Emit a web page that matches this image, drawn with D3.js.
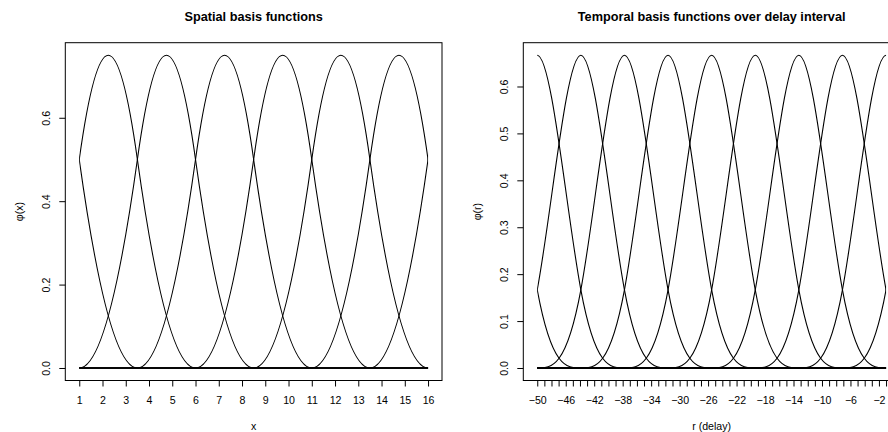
<!DOCTYPE html>
<html><head>
<meta charset="utf-8">
<title>Basis functions</title>
<style>
body { margin: 0; background: #fff; }
svg { display: block; font-family: "Liberation Sans", Arial, Helvetica, sans-serif; }
.box { fill: none; stroke: #000; stroke-width: 1; }
.basis { fill: none; stroke: #000; stroke-width: 1.1; }
.tick line { stroke: #000; }
.tick text { font-size: 10.6px; fill: #000; }
.title { font-size: 12.7px; font-weight: bold; text-anchor: middle; }
.lab { font-size: 10.6px; text-anchor: middle; }
</style>
<script src="https://cdn.jsdelivr.net/npm/d3@7"></script>
</head>
<body>
<svg id="chart" width="888" height="432"></svg>
<script>
// spatial: quadratic B-spline basis, Greville points of the knot grid (step 2.5)
const spatialKnots = [-5.25, -2.75, -0.25, 2.25, 4.75, 7.25, 9.75, 12.25, 14.75, 17.25, 19.75, 22.25];
const spatialCenters = [-0.25, 2.25, 4.75, 7.25, 9.75, 12.25, 14.75, 17.25];
const spatialRange = [1, 16];
const spatialXTicks = [1, 2, 3, 4, 5, 6, 7, 8, 9, 10, 11, 12, 13, 14, 15, 16];
const spatialYTicks = [0, 0.2, 0.4, 0.6];

// temporal: cubic B-spline basis over the delay interval (step 6.125)
const temporalKnots = [-74.5, -68.375, -62.25, -56.125, -50, -43.875, -37.75, -31.625, -25.5,
  -19.375, -13.25, -7.125, -1, 5.125, 11.25, 17.375, 23.5];
const temporalCenters = [-56.125, -50, -43.875, -37.75, -31.625, -25.5, -19.375, -13.25, -7.125, -1, 5.125];
const temporalRange = [-50, -1];
const temporalXTicks = d3.range(-50, 0);
const temporalXLabels = [-50, -46, -42, -38, -34, -30, -26, -22, -18, -14, -10, -6, -2];
const temporalYTicks = [0, 0.1, 0.2, 0.3, 0.4, 0.5, 0.6];

// quadratic uniform B-spline curve (d3 only ships the cubic one)
function QuadBasis(context) { this._context = context; }
QuadBasis.prototype = {
  areaStart() {}, areaEnd() {},
  lineStart() { this._point = 0; },
  lineEnd() { if (this._point >= 2) this._context.lineTo(this._x1, this._y1); },
  point(x, y) {
    x = +x; y = +y;
    if (this._point === 0) { this._point = 1; this._context.moveTo(x, y); }
    else if (this._point === 1) { this._point = 2; this._context.lineTo((this._x1 + x) / 2, (this._y1 + y) / 2); }
    else this._context.quadraticCurveTo(this._x1, this._y1, (this._x1 + x) / 2, (this._y1 + y) / 2);
    this._x1 = x; this._y1 = y;
  }
};
const curveQuadBasis = ctx => new QuadBasis(ctx);

const svg = d3.select("#chart");
const plotTop = 42.7, plotBottom = 380.5;

function panel(o) {
  const g = svg.append("g");
  const ext = (o.range[1] - o.range[0]) * 0.04;
  const x = d3.scaleLinear().domain([o.range[0] - ext, o.range[1] + ext]).range([o.left, o.right]);
  const yExt = o.ymax * 0.04;
  const y = d3.scaleLinear().domain([-yExt, o.ymax + yExt]).range([plotBottom, plotTop]);

  const cid = "clip" + o.id;
  svg.append("clipPath").attr("id", cid).append("rect")
    .attr("x", x(o.range[0])).attr("y", plotTop)
    .attr("width", x(o.range[1]) - x(o.range[0])).attr("height", plotBottom - plotTop);

  const line = d3.line().x(d => x(d[0])).y(d => y(d[1])).curve(o.curve);
  g.append("g").attr("clip-path", `url(#${cid})`)
    .selectAll("path").data(o.centers).join("path")
    .attr("class", "basis")
    .attr("d", c => line(o.knots.map(k => [k, k === c ? 1 : 0])));

  g.append("rect").attr("class", "box")
    .attr("x", o.left).attr("y", plotTop).attr("width", o.right - o.left).attr("height", plotBottom - plotTop);

  const xa = g.append("g").attr("transform", `translate(0,${plotBottom})`)
    .call(d3.axisBottom(x).tickValues(o.xticks).tickSize(6).tickPadding(10)
      .tickFormat(d => o.xlabels.includes(d) ? String(d).replace("-", "\u2212") : ""));
  xa.select(".domain").remove();

  const ya = g.append("g").attr("transform", `translate(${o.left},0)`)
    .call(d3.axisLeft(y).tickValues(o.yticks).tickSize(6).tickFormat(d3.format(".1f")));
  ya.select(".domain").remove();
  ya.selectAll("text").attr("x", null).attr("dy", null)
    .attr("text-anchor", "middle").attr("transform", "translate(-15,0) rotate(-90)");

  g.append("text").attr("class", "title").attr("x", (o.left + o.right) / 2).attr("y", 21).text(o.title);
  g.append("text").attr("class", "lab").attr("x", (o.left + o.right) / 2).attr("y", 429.5).text(o.xlab);
  g.append("text").attr("class", "lab")
    .attr("transform", `translate(${o.left - 42.5},${(plotTop + plotBottom) / 2}) rotate(-90)`).text(o.ylab);
}

panel({
  id: 1, left: 65.3, right: 442, range: spatialRange, ymax: 0.75,
  knots: spatialKnots, centers: spatialCenters, curve: curveQuadBasis,
  xticks: spatialXTicks, xlabels: spatialXTicks, yticks: spatialYTicks,
  title: "Spatial basis functions", xlab: "x", ylab: "\u03c6(x)"
});

panel({
  id: 2, left: 523.3, right: 900, range: temporalRange, ymax: 2 / 3,
  knots: temporalKnots, centers: temporalCenters, curve: d3.curveBasis,
  xticks: temporalXTicks, xlabels: temporalXLabels, yticks: temporalYTicks,
  title: "Temporal basis functions over delay interval", xlab: "r (delay)", ylab: "\u03c6(r)"
});
</script>
</body></html>
